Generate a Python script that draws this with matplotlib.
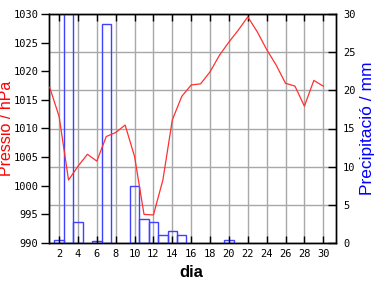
import numpy as np
import matplotlib
matplotlib.use('Agg')
import matplotlib.pyplot as plt

days = np.arange(1, 31)
pressure = [1017.2, 1012.1, 1001.0, 1003.4, 1005.5, 1004.3, 1008.6, 1009.3, 1010.6, 1005.1,
            995.0, 994.9, 1001.0, 1011.5, 1015.6, 1017.6, 1017.8, 1019.9, 1022.8, 1025.1,
            1027.2, 1029.5, 1026.9, 1023.8, 1021.1, 1017.9, 1017.4, 1013.9, 1018.4, 1017.4]
rain_days = [2, 3, 4, 6, 7, 10, 11, 12, 13, 14, 15, 20]
rain = [0.4, 40.0, 2.75, 0.3, 28.7, 7.5, 3.2, 2.75, 1.05, 1.6, 1.05, 0.4]

fig = plt.figure(figsize=(3.84, 2.88), dpi=100)
ax = fig.add_axes([49/384, 45/288, 287/384, 229/288])
ax2 = ax.twinx()

# bars first (on the right axis), pressure line on top
ax2.bar(rain_days, rain, width=1.0, facecolor='none', edgecolor='#4040ff', linewidth=1.0, zorder=3)
ax2.set_ylim(0, 30)
ax2.set_yticks(range(0, 31, 5))

ax.set_zorder(ax2.get_zorder() + 1)
ax.patch.set_visible(False)
ax.plot(days, pressure, color='#ff3030', linewidth=0.9, zorder=4)
ax.set_ylim(990, 1030)
ax.set_yticks(range(990, 1031, 5))
ax.set_xlim(0.93, 31.35)
ax.set_xticks(range(2, 31, 2))

# grid drawn on the back axis so bars sit over it
for yv in range(0, 31, 5):
    ax2.axhline(yv, color='#a8a8a8', linewidth=1.0, zorder=1)
for xv in range(2, 31, 2):
    ax2.axvline(xv, color='#a8a8a8', linewidth=1.0, zorder=1)

for lab in ax.get_yticklabels() + ax.get_xticklabels() + ax2.get_yticklabels():
    lab.set_fontfamily('DejaVu Sans Mono')
    lab.set_fontsize(7.5)

ax.tick_params(axis='y', direction='out', length=6, width=1, pad=1.5)
ax.tick_params(axis='x', direction='in', length=5, width=1, top=True, pad=4)
ax2.tick_params(axis='y', direction='in', length=6, width=1, pad=5)

for a in (ax, ax2):
    for s in a.spines.values():
        s.set_linewidth(1.0)
        s.set_color('black')

ax.set_xlabel('dia', fontsize=12, family='Liberation Sans', weight='bold')
ax.xaxis.set_label_coords(0.4948, -0.095)
ax.set_ylabel('Pressió / hPa', fontsize=11.5, family='Liberation Sans', color='red')
ax.yaxis.set_label_coords(-0.123, 0.5)
ax2.set_ylabel('Precipitació / mm', fontsize=12.5, family='Liberation Sans', color='blue')
ax2.yaxis.set_label_coords(1.0836, 0.5)

fig.savefig('out.png', dpi=100)
